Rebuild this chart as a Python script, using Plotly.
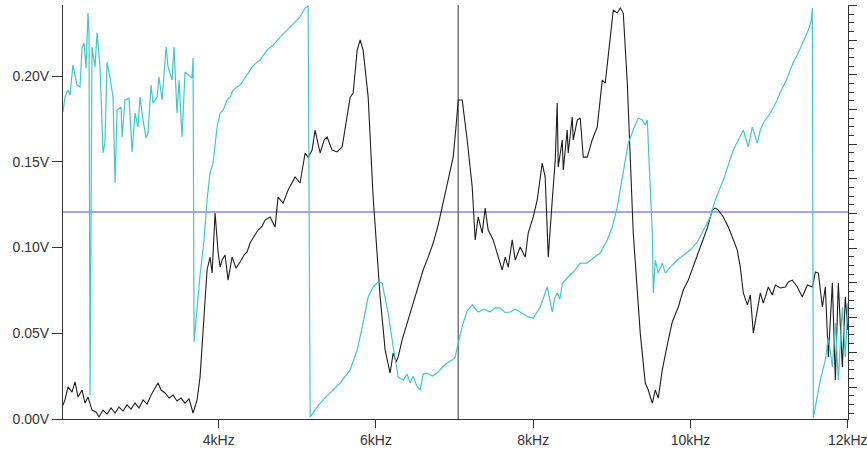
import plotly.graph_objects as go

# ---- black trace (magnitude), frequency in kHz, level in V ----
black_freq = [2.020, 2.045, 2.084, 2.135, 2.173, 2.211, 2.262, 2.300, 2.338, 2.389,
              2.440, 2.478, 2.529, 2.580, 2.631, 2.682, 2.732, 2.783, 2.834, 2.885,
              2.936, 2.987, 3.038, 3.089, 3.140, 3.190, 3.229, 3.267, 3.318, 3.369,
              3.420, 3.470, 3.521, 3.572, 3.623, 3.674, 3.725, 3.763, 3.814, 3.852,
              3.890, 3.916, 3.954, 3.992, 4.018, 4.043, 4.081, 4.119, 4.170, 4.221,
              4.272, 4.323, 4.361, 4.399, 4.437, 4.501, 4.552, 4.590, 4.654, 4.692,
              4.717, 4.755, 4.819, 4.883, 4.934, 4.972, 5.035, 5.099, 5.137, 5.188,
              5.226, 5.290, 5.341, 5.379, 5.442, 5.506, 5.570, 5.633, 5.672, 5.710,
              5.761, 5.799, 5.837, 5.901, 5.964, 6.053, 6.117, 6.180, 6.219, 6.257,
              6.282, 6.333, 6.397, 6.473, 6.537, 6.600, 6.664, 6.728, 6.791, 6.855,
              6.918, 6.982, 7.020, 7.046, 7.097, 7.160, 7.224, 7.262, 7.300, 7.351,
              7.389, 7.427, 7.491, 7.542, 7.605, 7.644, 7.682, 7.733, 7.771, 7.834,
              7.898, 7.936, 8.000, 8.051, 8.114, 8.152, 8.191, 8.242, 8.280, 8.305,
              8.318, 8.369, 8.382, 8.432, 8.445, 8.496, 8.509, 8.560, 8.598, 8.636,
              8.687, 8.750, 8.814, 8.878, 8.916, 8.980, 9.018, 9.069, 9.107, 9.145,
              9.196, 9.272, 9.361, 9.425, 9.463, 9.514, 9.552, 9.590, 9.641, 9.704,
              9.768, 9.845, 9.908, 9.972, 10.061, 10.125, 10.214, 10.277, 10.315, 10.354,
              10.417, 10.481, 10.532, 10.595, 10.633, 10.672, 10.723, 10.761, 10.799, 10.850,
              10.888, 10.926, 10.990, 11.041, 11.079, 11.143, 11.206, 11.244, 11.295, 11.359,
              11.422, 11.486, 11.549, 11.588, 11.626, 11.677, 11.715, 11.753, 11.804, 11.842,
              11.880, 11.931, 11.969, 12.000]
black_volts = [0.0082, 0.0111, 0.0187, 0.0157, 0.0216, 0.0128, 0.0169, 0.0093, 0.0128, 0.0052,
               0.0041, 0.0012, 0.0052, 0.0029, 0.0064, 0.0035, 0.0070, 0.0047, 0.0082, 0.0058,
               0.0093, 0.0064, 0.0111, 0.0087, 0.0140, 0.0181, 0.0210, 0.0169, 0.0152, 0.0122,
               0.0140, 0.0105, 0.0122, 0.0093, 0.0117, 0.0035, 0.0111, 0.0245, 0.0577, 0.0869,
               0.0944, 0.0851, 0.1201, 0.0974, 0.0886, 0.0927, 0.0956, 0.0810, 0.0944, 0.0880,
               0.0915, 0.0956, 0.0974, 0.1026, 0.1055, 0.1102, 0.1125, 0.1160, 0.1178, 0.1143,
               0.1119, 0.1294, 0.1259, 0.1335, 0.1376, 0.1411, 0.1376, 0.1551, 0.1527, 0.1568,
               0.1685, 0.1551, 0.1627, 0.1644, 0.1568, 0.1557, 0.1586, 0.1761, 0.1877, 0.1901,
               0.2151, 0.2210, 0.2151, 0.1877, 0.1294, 0.0711, 0.0402, 0.0268, 0.0385, 0.0332,
               0.0361, 0.0461, 0.0560, 0.0676, 0.0781, 0.0869, 0.0944, 0.1026, 0.1131, 0.1259,
               0.1393, 0.1527, 0.1714, 0.1860, 0.1860, 0.1627, 0.1353, 0.1044, 0.1178, 0.1084,
               0.1230, 0.1102, 0.1044, 0.0968, 0.0869, 0.0944, 0.0886, 0.1044, 0.0927, 0.1003,
               0.0944, 0.1084, 0.1178, 0.1277, 0.1492, 0.1411, 0.0944, 0.1277, 0.1510, 0.1842,
               0.1469, 0.1627, 0.1452, 0.1685, 0.1551, 0.1761, 0.1627, 0.1743, 0.1755, 0.1527,
               0.1527, 0.1627, 0.1702, 0.1976, 0.1959, 0.2227, 0.2384, 0.2367, 0.2396, 0.2367,
               0.1959, 0.1084, 0.0501, 0.0210, 0.0169, 0.0093, 0.0169, 0.0122, 0.0286, 0.0431,
               0.0566, 0.0653, 0.0752, 0.0810, 0.0927, 0.1003, 0.1114, 0.1218, 0.1230, 0.1218,
               0.1178, 0.1119, 0.1061, 0.0985, 0.0886, 0.0735, 0.0665, 0.0723, 0.0501, 0.0647,
               0.0735, 0.0676, 0.0770, 0.0723, 0.0781, 0.0764, 0.0770, 0.0799, 0.0810, 0.0770,
               0.0711, 0.0781, 0.0770, 0.0857, 0.0851, 0.0653, 0.0770, 0.0361, 0.0793, 0.0227,
               0.0793, 0.0303, 0.0711, 0.0519]

# ---- cyan trace (wrapped sweep), same vertical units ----
cyan_freq = [2.020, 2.045, 2.084, 2.109, 2.147, 2.198, 2.236, 2.262, 2.287, 2.313,
             2.338, 2.351, 2.364, 2.389, 2.427, 2.453, 2.491, 2.529, 2.554, 2.580,
             2.618, 2.656, 2.682, 2.707, 2.758, 2.771, 2.809, 2.860, 2.898, 2.936,
             2.974, 2.999, 3.038, 3.076, 3.101, 3.140, 3.165, 3.216, 3.241, 3.280,
             3.331, 3.356, 3.407, 3.432, 3.470, 3.496, 3.534, 3.572, 3.661, 3.674,
             3.687, 3.763, 3.814, 3.852, 3.890, 3.928, 3.979, 4.018, 4.056, 4.107,
             4.145, 4.183, 4.272, 4.361, 4.425, 4.488, 4.526, 4.615, 4.692, 4.781,
             4.845, 4.908, 4.972, 5.035, 5.099, 5.137, 5.163, 5.201, 5.290, 5.417,
             5.544, 5.672, 5.761, 5.837, 5.901, 5.964, 6.028, 6.079, 6.117, 6.155,
             6.219, 6.282, 6.346, 6.397, 6.435, 6.473, 6.524, 6.562, 6.600, 6.651,
             6.715, 6.778, 6.842, 6.906, 6.969, 7.007, 7.046, 7.109, 7.160, 7.224,
             7.300, 7.376, 7.453, 7.516, 7.580, 7.644, 7.707, 7.771, 7.834, 7.936,
             8.000, 8.089, 8.178, 8.242, 8.270, 8.305, 8.340, 8.369, 8.432, 8.509,
             8.598, 8.687, 8.763, 8.852, 8.941, 9.005, 9.069, 9.145, 9.208, 9.272,
             9.336, 9.387, 9.425, 9.450, 9.476, 9.514, 9.527, 9.552, 9.590, 9.641,
             9.679, 9.743, 9.832, 9.908, 9.997, 10.087, 10.163, 10.252, 10.315, 10.379,
             10.417, 10.544, 10.672, 10.735, 10.786, 10.850, 10.888, 10.926, 11.015, 11.104,
             11.143, 11.219, 11.308, 11.346, 11.435, 11.499, 11.537, 11.549, 11.562, 11.651,
             11.715, 11.753, 11.804, 11.842, 11.880, 11.931, 11.969, 12.000]
cyan_volts = [0.1790, 0.1877, 0.1918, 0.1889, 0.2064, 0.1947, 0.1936, 0.2163, 0.2192, 0.2046,
              0.2367, 0.2250, 0.0140, 0.2169, 0.2052, 0.2250, 0.2052, 0.1551, 0.1615, 0.2081,
              0.1994, 0.1877, 0.1376, 0.1801, 0.1819, 0.1644, 0.1860, 0.1871, 0.1557, 0.1784,
              0.1702, 0.1877, 0.1743, 0.1638, 0.1667, 0.1947, 0.1842, 0.1877, 0.1994, 0.1860,
              0.2169, 0.2052, 0.1976, 0.2169, 0.1784, 0.1976, 0.1644, 0.2023, 0.1988, 0.2105,
              0.0449, 0.0840, 0.1044, 0.1277, 0.1434, 0.1492, 0.1702, 0.1784, 0.1801, 0.1860,
              0.1877, 0.1918, 0.1947, 0.2006, 0.2052, 0.2081, 0.2093, 0.2151, 0.2180, 0.2227,
              0.2256, 0.2285, 0.2315, 0.2344, 0.2396, 0.2408, 0.0012, 0.0035, 0.0093, 0.0152,
              0.0210, 0.0286, 0.0402, 0.0560, 0.0711, 0.0770, 0.0799, 0.0793, 0.0711, 0.0618,
              0.0420, 0.0245, 0.0227, 0.0262, 0.0210, 0.0250, 0.0187, 0.0169, 0.0262, 0.0268,
              0.0250, 0.0268, 0.0300, 0.0326, 0.0344, 0.0361, 0.0443, 0.0560, 0.0630, 0.0665,
              0.0624, 0.0640, 0.0624, 0.0650, 0.0647, 0.0620, 0.0624, 0.0640, 0.0624, 0.0595,
              0.0589, 0.0653, 0.0770, 0.0624, 0.0700, 0.0735, 0.0700, 0.0790, 0.0822, 0.0857,
              0.0909, 0.0909, 0.0939, 0.0968, 0.1044, 0.1119, 0.1236, 0.1434, 0.1609, 0.1685,
              0.1755, 0.1743, 0.1714, 0.1743, 0.1469, 0.1084, 0.0735, 0.0927, 0.0851, 0.0909,
              0.0851, 0.0886, 0.0927, 0.0956, 0.0985, 0.1032, 0.1102, 0.1178, 0.1277, 0.1353,
              0.1393, 0.1568, 0.1685, 0.1586, 0.1702, 0.1609, 0.1685, 0.1726, 0.1784, 0.1860,
              0.1906, 0.1976, 0.2081, 0.2110, 0.2204, 0.2268, 0.2326, 0.2396, 0.0006, 0.0227,
              0.0344, 0.0478, 0.0303, 0.0560, 0.0227, 0.0653, 0.0361, 0.0676]

# ---- reference markers & axes ----
ref_level = 0.1207        # horizontal blue cursor (V)
marker_freq = 7.046       # vertical cursor (kHz)
x_range = [2.02, 12.003]
y_range = [0.0, 0.2414]
x_ticks = [4, 6, 8, 10, 12]
x_tick_text = ["4kHz", "6kHz", "8kHz", "10kHz", "12kHz"]
y_ticks = [0.0, 0.05, 0.10, 0.15, 0.20]
y_tick_text = ["0.00V", "0.05V", "0.10V", "0.15V", "0.20V"]

FONT = "Liberation Sans, Arial, sans-serif"
AXC = "#333333"

fig = go.Figure()
fig.add_trace(go.Scatter(x=cyan_freq, y=cyan_volts, mode="lines", yaxis="y2",
                         line=dict(color="#3fc9c9", width=1.2), showlegend=False,
                         hoverinfo="skip"))
fig.add_trace(go.Scatter(x=black_freq, y=black_volts, mode="lines",
                         line=dict(color="#1e1e1e", width=1.1), showlegend=False,
                         hoverinfo="skip"))

fig.add_hline(y=ref_level, line=dict(color="#4b4be0", width=1.2), layer="below")
fig.add_vline(x=marker_freq, line=dict(color="#555555", width=1.2), layer="below")

fig.update_layout(
    width=867, height=453,
    margin=dict(l=63, r=19, t=5, b=34),
    paper_bgcolor="white", plot_bgcolor="white",
    font=dict(family=FONT, size=14, color="#333333"),
    xaxis=dict(range=x_range, tickmode="array", tickvals=x_ticks, ticktext=x_tick_text,
               showgrid=False, zeroline=False, showline=True, linecolor=AXC,
               linewidth=1, ticks="outside", ticklen=8, tickcolor=AXC,
               tickfont=dict(size=14), automargin=False,
               ticklabeloverflow="allow"),
    yaxis=dict(range=y_range, tickvals=y_ticks, ticktext=y_tick_text,
               showgrid=False, zeroline=False, showline=True, linecolor=AXC,
               linewidth=1, ticks="outside", ticklen=10, tickcolor=AXC,
               tickfont=dict(size=14), automargin=False),
    yaxis2=dict(range=y_range, overlaying="y", side="right",
                tickmode="linear", tick0=0.01866, dtick=0.02023,
                showticklabels=False, showgrid=False, zeroline=False,
                showline=True, linecolor=AXC, linewidth=1,
                ticks="outside", ticklen=8, tickcolor=AXC,
                minor=dict(ticks="outside", ticklen=5, dtick=0.0050575,
                           tick0=0.01866, tickcolor=AXC, showgrid=False)),
)

fig.write_html("out.html")
